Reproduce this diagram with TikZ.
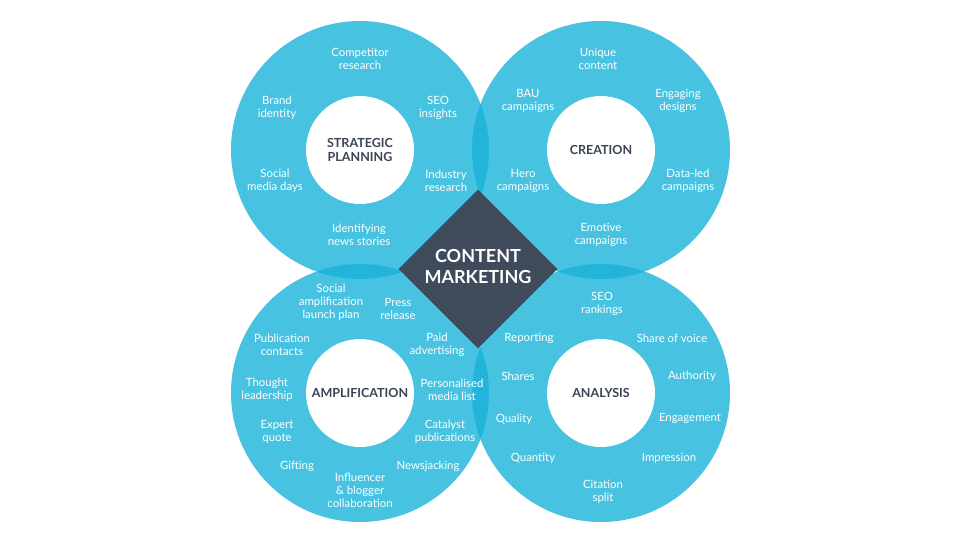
\documentclass[tikz,border=0pt]{standalone}
\usepackage{fontspec}
\setmainfont{Lato}
\usetikzlibrary{shapes.geometric}
\definecolor{ringc}{HTML}{47C3E1}
\definecolor{lensc}{HTML}{22B4DA}
\definecolor{slatec}{HTML}{3F4A5A}
\definecolor{titlec}{HTML}{3A4455}
\begin{document}
\begin{tikzpicture}[x=1pt,y=-1pt,
  ringnode/.style={circle, fill=ringc, minimum size=258pt, inner sep=0pt},
  hub/.style={circle, fill=white, minimum size=108pt, inner sep=0pt,
    font=\fontsize{12.5}{14.5}\selectfont\bfseries, text=titlec, align=center},
  lbl/.style={font=\fontsize{11.4}{13}\selectfont, text=white, align=center, inner sep=0pt, yshift=-1pt},
]
\useasboundingbox (0,0) rectangle (960,540);
\fill[white] (0,0) rectangle (960,540);
\coordinate (ctl) at (360,150);
\coordinate (ctr) at (601,150);
\coordinate (cbl) at (360,393);
\coordinate (cbr) at (601,393);
\node[ringnode] (tl) at (ctl) {};
\node[ringnode] (tr) at (ctr) {};
\node[ringnode] (bl) at (cbl) {};
\node[ringnode] (br) at (cbr) {};
\begin{scope}
  \clip (ctl) circle (129);
  \fill[lensc] (ctr) circle (129);
  \fill[lensc] (cbl) circle (129);
\end{scope}
\begin{scope}
  \clip (cbr) circle (129);
  \fill[lensc] (ctr) circle (129);
  \fill[lensc] (cbl) circle (129);
\end{scope}
\node[hub] (sp) at (ctl) {STRATEGIC\\PLANNING};
\node[hub] (cr) at (ctr) {CREATION};
\node[hub] (am) at (cbl) {AMPLIFICATION};
\node[hub] (an) at (cbr) {ANALYSIS};
\node[diamond, aspect=1, minimum width=159pt, minimum height=159pt, inner sep=0pt, fill=slatec] (cm) at (478,269) {};
\node[font=\fontsize{18}{21}\selectfont\bfseries, text=white, align=center] (cmt) at (478,266) {CONTENT\\MARKETING};
% strategic planning
\node[lbl] (a1) at (360,58) {Competitor\\research};
\node[lbl] (a2) at (277,107) {Brand\\identity};
\node[lbl] (a3) at (438,107) {SEO\\insights};
\node[lbl] (a4) at (275,180) {Social\\media days};
\node[lbl] (a5) at (446,180) {Industry\\research};
\node[lbl] (a6) at (359,234) {Identifying\\news stories};
% creation
\node[lbl] (b1) at (598,58) {Unique\\content};
\node[lbl] (b2) at (528,100) {BAU\\campaigns};
\node[lbl] (b3) at (678,100) {Engaging\\designs};
\node[lbl] (b4) at (523,180) {Hero\\campaigns};
\node[lbl] (b5) at (688,180) {Data-led\\campaigns};
\node[lbl] (b6) at (601,234) {Emotive\\campaigns};
% amplification
\node[lbl] (c1) at (331,301) {Social\\amplification\\launch plan};
\node[lbl] (c2) at (398,308) {Press\\release};
\node[lbl] (c3) at (282,344) {Publication\\contacts};
\node[lbl] (c4) at (437,344) {Paid\\advertising};
\node[lbl] (c5) at (267,389) {Thought\\leadership};
\node[lbl] (c6) at (452,389) {Personalised\\media list};
\node[lbl] (c7) at (277,431) {Expert\\quote};
\node[lbl] (c8) at (445,431) {Catalyst\\publications};
\node[lbl] (c9) at (297,465) {Gifting};
\node[lbl] (c10) at (428,465) {Newsjacking};
\node[lbl] (c11) at (360,489) {Influencer\\\& blogger\\collaboration};
% analysis
\node[lbl] (d1) at (602,303) {SEO\\rankings};
\node[lbl] (d2) at (529,337) {Reporting};
\node[lbl] (d3) at (672,337) {Share of voice};
\node[lbl] (d4) at (518,375) {Shares};
\node[lbl] (d5) at (692,375) {Authority};
\node[lbl] (d6) at (514,418) {Quality};
\node[lbl] (d7) at (690,417) {Engagement};
\node[lbl] (d8) at (533,457) {Quantity};
\node[lbl] (d9) at (669,457) {Impression};
\node[lbl] (d10) at (603,491) {Citation\\split};
\end{tikzpicture}
\end{document}
